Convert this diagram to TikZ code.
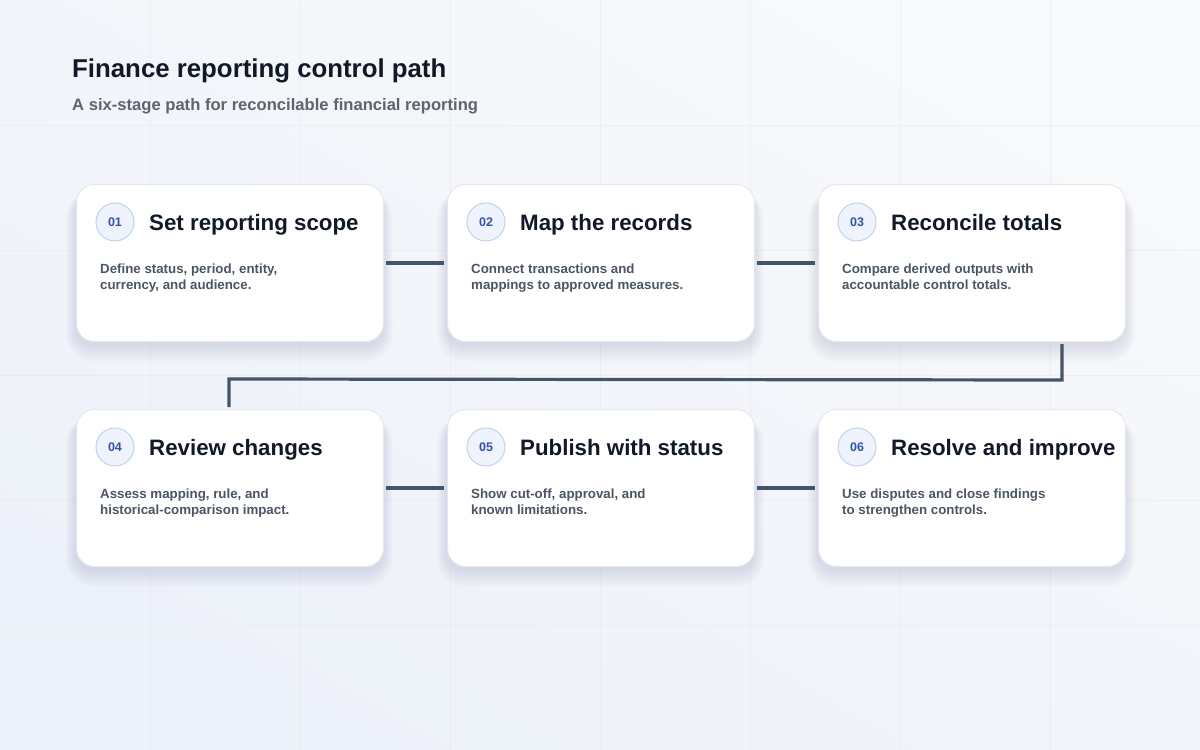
\documentclass[tikz,border=0pt]{standalone}
\usepackage{fontspec}
\setmainfont{Liberation Sans}
\usetikzlibrary{calc}
\definecolor{bgA}{HTML}{F8F9FB}
\definecolor{bgB}{HTML}{EDF1F9}
\definecolor{gridc}{HTML}{E6E9EF}
\definecolor{titlec}{HTML}{111827}
\definecolor{subc}{HTML}{5B6473}
\definecolor{bodyc}{HTML}{4B5563}
\definecolor{circfill}{HTML}{EEF3FC}
\definecolor{circline}{HTML}{C3D1EE}
\definecolor{numc}{HTML}{3553A6}
\definecolor{linkc}{HTML}{465467}
\definecolor{cardline}{HTML}{E4E8EE}
\definecolor{shadowc}{HTML}{27344F}
\tikzset{
  cardbox/.style={rounded corners=18pt, fill=white, draw=cardline, line width=1pt,
    minimum width=307pt, minimum height=157pt, inner sep=0pt, anchor=north west},
  numcirc/.style={circle, fill=circfill, draw=circline, line width=1pt, minimum size=38pt,
    inner sep=0pt, text=numc, font=\bfseries\fontsize{12.5}{12}\selectfont},
  cardtitle/.style={anchor=base west, inner sep=0pt, text=titlec, font=\bfseries\fontsize{22.3}{24}\selectfont},
  cardbody/.style={anchor=base west, inner sep=0pt, text=bodyc, font=\bfseries\fontsize{13.3}{16}\selectfont},
  link/.style={draw=linkc, line width=3.2pt}
}
\newcommand{\stagecard}[7]{%
  \foreach \k in {1,...,9}{
    \fill[shadowc, opacity=0.011, rounded corners=18pt+\k pt]
      ($(#2,#3)+(-\k*1.1,-\k*0.3+10)$) rectangle ($(#2,#3)+(307+\k*1.1,157+\k*2.0+3)$);
  }
  \node[cardbox] (#1) at (#2,#3) {};
  \node[numcirc] (#1n) at ($(#1.north west)+(39,38)$) {#4};
  \node[cardtitle] (#1t) at ($(#1.north west)+(73,46)$) {#5};
  \node[cardbody] (#1a) at ($(#1.north west)+(24,89)$) {#6};
  \node[cardbody] (#1b) at ($(#1.north west)+(24,105)$) {#7};
}
\begin{document}
\begin{tikzpicture}[x=1pt,y=-1pt]
\useasboundingbox (0,0) rectangle (1200,750);
\shade[shading=axis, top color=bgA, bottom color=bgB, shading angle=-30] (0,0) rectangle (1200,750);
\foreach \gx in {150,300,...,1050} \draw[gridc, line width=0.6pt, opacity=0.6] (\gx,0) -- (\gx,750);
\foreach \gy in {125,250,...,625} \draw[gridc, line width=0.6pt, opacity=0.6] (0,\gy) -- (1200,\gy);

\node[anchor=base west, inner sep=0pt, text=titlec, font=\bfseries\fontsize{25.8}{28}\selectfont] (title) at (72,77) {Finance reporting control path};
\node[anchor=base west, inner sep=0pt, text=subc, font=\bfseries\fontsize{16.6}{20}\selectfont] (subtitle) at (72,110) {A six-stage path for reconcilable financial reporting};

\stagecard{c1}{76}{184}{01}{Set reporting scope}{Define status, period, entity,}{currency, and audience.}
\stagecard{c2}{447}{184}{02}{Map the records}{Connect transactions and}{mappings to approved measures.}
\stagecard{c3}{818}{184}{03}{Reconcile totals}{Compare derived outputs with}{accountable control totals.}
\stagecard{c4}{76}{409}{04}{Review changes}{Assess mapping, rule, and}{historical-comparison impact.}
\stagecard{c5}{447}{409}{05}{Publish with status}{Show cut-off, approval, and}{known limitations.}
\stagecard{c6}{818}{409}{06}{Resolve and improve}{Use disputes and close findings}{to strengthen controls.}

\draw[link] ($(c1.east)+(2,0)$) -- ($(c2.west)+(-3,0)$);
\draw[link] ($(c2.east)+(2,0)$) -- ($(c3.west)+(-3,0)$);
\draw[link] ($(c4.east)+(2,0)$) -- ($(c5.west)+(-3,0)$);
\draw[link] ($(c5.east)+(2,0)$) -- ($(c6.west)+(-3,0)$);
\coordinate (turnA) at ($(c3.south west)+(244,38)$);
\draw[link] ($(c3.south west)+(244,2)$) -- (turnA) -- ($(c4.north west)+(153,-30)$) -- ($(c4.north west)+(153,-2)$);
\end{tikzpicture}
\end{document}
